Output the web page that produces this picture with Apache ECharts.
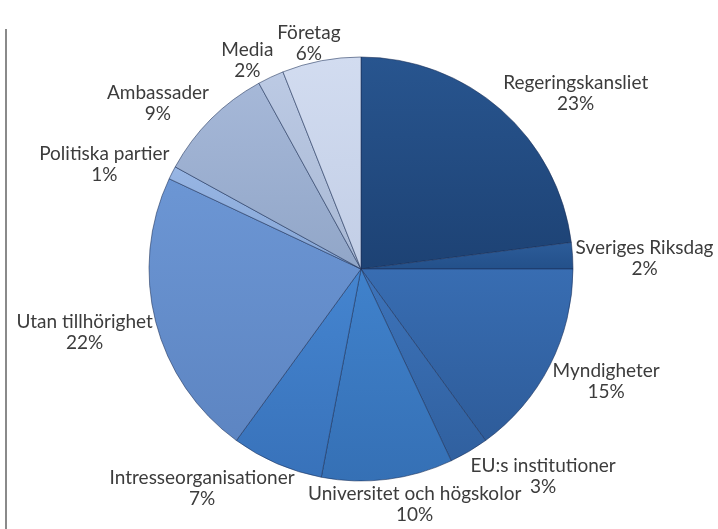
<!DOCTYPE html>
<html><head><meta charset="utf-8">
<script src="https://cdn.jsdelivr.net/npm/echarts@6/dist/echarts.min.js"></script>
<style>html,body{margin:0;padding:0;background:#fff}#c{width:718px;height:529px;position:relative}
#vline{position:absolute;left:5px;top:29px;width:2px;height:500px;background:#8a8a8a}</style>
</head><body><div id="c"></div><div id="vline"></div>
<script>
const categories = ["Regeringskansliet","Sveriges Riksdag","Myndigheter","EU:s institutioner","Universitet och högskolor","Intresseorganisationer","Utan tillhörighet","Politiska partier","Ambassader","Media","Företag"];
const values = [23, 2, 15, 3, 10, 7, 22, 1, 9, 2, 6];
const topColors = ["#28558f","#2c5c99","#386db2","#3d74bb","#4082cc","#4585d0","#6c96d4","#98b6e4","#a6b8d8","#bccae4","#d2dcf0"];
const bottomColors = ["#1d4274","#23508a","#2e5c9a","#30609f","#3570b5","#3872ba","#5d85c2","#86a6d6","#91a6c8","#a8b8d4","#c2cee6"];

const CX = 361, CY = 269, R = 212;
const chart = echarts.init(document.getElementById('c'), null, {renderer:'canvas'});
const data = categories.map((n,i)=>({
  name:n, value:values[i],
  itemStyle:{color:new echarts.graphic.LinearGradient(0,0,0,1,[{offset:0,color:topColors[i]},{offset:1,color:bottomColors[i]}])}
}));
function clamp(v){return Math.max(-1,Math.min(1,v));}
chart.setOption({
  animation:false,
  series:[{
    type:'pie',
    center:[CX,CY],
    radius:R,
    startAngle:90,
    clockwise:true,
    avoidLabelOverlap:false,
    data:data,
    itemStyle:{borderColor:'rgba(25,45,85,0.55)',borderWidth:1},
    label:{
      show:true,position:'outside',
      formatter:'{b}\n{c}%',
      fontFamily:'Lato, Open Sans, sans-serif',
      fontSize:19,color:'#3c3c3c',lineHeight:21
    },
    labelLine:{show:true,length:4,length2:0,lineStyle:{width:0,opacity:0}},
    labelLayout:function(p){
      const r=p.labelRect;
      const pts=p.labelLinePoints;
      if(!pts){return {x:r.x+r.width/2,y:r.y+r.height/2,align:'center',verticalAlign:'middle'};}
      const P=pts[0];
      let ux=P[0]-CX, uy=P[1]-CY; const L=Math.hypot(ux,uy)||1; ux/=L; uy/=L;
      return {x:P[0]+clamp(ux*2)*r.width/2+ux*3,y:P[1]+clamp(uy*1.3)*r.height/2+4,align:'center',verticalAlign:'middle'};
    }
  }]
});
</script></body></html>
